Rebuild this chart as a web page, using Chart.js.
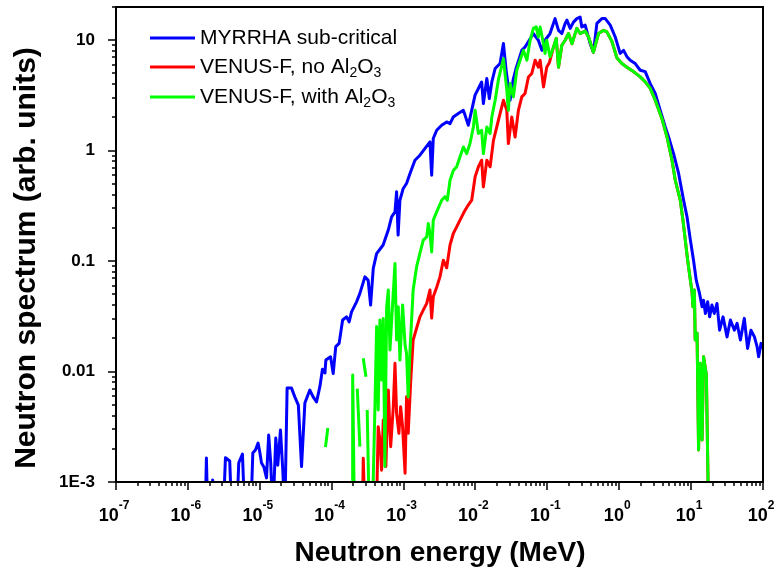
<!DOCTYPE html>
<html>
<head>
<meta charset="utf-8">
<script src="https://cdn.jsdelivr.net/npm/chart.js@4.4.1/dist/chart.umd.min.js"></script>
<style>
  html, body { margin: 0; padding: 0; background: #fff; }
  #wrap { width: 779px; height: 572px; }
</style>
</head>
<body>
<div id="wrap"><canvas id="spectrum"></canvas></div>
<script>
// neutron spectra (log-log)
const FONT = '"Liberation Sans", Arial, sans-serif';

const seriesNames = ['MYRRHA sub-critical', 'VENUS-F, no Al_2O_3', 'VENUS-F, with Al_2O_3'];
const seriesColors = ['#0000ff', '#ff0000', '#00ff00'];

// MYRRHA sub-critical
const blueE = [1.74e-6, 1.81e-6, 1.89e-6, 2.11e-6, 2.21e-6, 2.36e-6, 3.10e-6, 3.33e-6, 3.82e-6, 4.07e-6,
  4.78e-6, 5.1e-6, 5.74e-6, 6.18e-6, 7.5e-6, 8.0e-6, 8.7e-6, 9.47e-6, 1.0e-5, 1.056e-5,
  1.14e-5, 1.24e-5, 1.33e-5, 1.42e-5, 1.52e-5, 1.67e-5, 1.78e-5, 1.94e-5, 2.09e-5, 2.23e-5,
  2.40e-5, 2.76e-5, 3.07e-5, 3.44e-5, 3.81e-5, 4.24e-5, 4.97e-5, 5.52e-5, 6.16e-5, 6.85e-5,
  7.45e-5, 8.06e-5, 8.3e-5, 9.65e-5, 1.05e-4, 1.14e-4, 1.27e-4, 1.42e-4, 1.61e-4, 1.75e-4,
  1.89e-4, 2.22e-4, 2.47e-4, 2.90e-4, 3.22e-4, 3.48e-4, 3.79e-4, 4.22e-4, 5.2e-4, 6.13e-4,
  6.82e-4, 7.6e-4, 8.0e-4, 8.4e-4, 8.9e-4, 9.9e-4, 1.10e-3, 1.23e-3, 1.44e-3, 1.69e-3,
  1.99e-3, 2.33e-3, 2.46e-3, 2.59e-3, 2.89e-3, 3.39e-3, 3.98e-3, 4.43e-3, 4.92e-3, 5.77e-3,
  6.78e-3, 7.16e-3, 7.96e-3, 8.87e-3, 9.87e-3, 1.10e-2, 1.22e-2, 1.29e-2, 1.44e-2, 1.56e-2,
  1.69e-2, 1.88e-2, 2.2e-2, 2.45e-2, 2.67e-2, 3.03e-2, 3.34e-2, 3.68e-2, 4.41e-2, 4.90e-2,
  6.4e-2, 7.5e-2, 8.4e-2, 9.3e-2, 0.109, 0.128, 0.143, 0.159, 0.177, 0.187,
  0.208, 0.231, 0.257, 0.286, 0.302, 0.336, 0.394, 0.438, 0.489, 0.574,
  0.64, 0.75, 0.88, 1.03, 1.15, 1.28, 1.42, 1.67, 1.96, 2.30,
  2.70, 3.17, 3.72, 4.37, 4.86, 5.70, 6.70, 7.86, 8.77, 9.77,
  10.8, 11.8, 13.1, 14.2, 14.9, 15.8, 17.0, 18.1, 19.5, 21.0,
  22.9, 24.9, 27.8, 31.6, 35.2, 40, 43.6, 48.5, 55, 61,
  68, 76, 82.7, 87, 94, 100];
const blueV = [5e-4, 1.65e-3, 5e-4, 5e-4, 1.04e-3, 5e-4, 5e-4, 1.66e-3, 1.55e-3, 5e-4,
  5e-4, 1.49e-3, 1.79e-3, 5e-4, 5e-4, 1.83e-3, 1.95e-3, 2.25e-3, 1.87e-3, 1.49e-3,
  1.37e-3, 1.09e-3, 2.66e-3, 1.49e-3, 5e-4, 2.5e-3, 1.42e-3, 2.95e-3, 1.28e-3, 5e-4,
  7.1e-3, 7.1e-3, 5.9e-3, 4.97e-3, 1.38e-3, 5.2e-3, 6.8e-3, 5.9e-3, 5.3e-3, 7.3e-3,
  1.05e-2, 9.7e-3, 1.27e-2, 1.36e-2, 9.6e-3, 1.68e-2, 1.80e-2, 2.93e-2, 3.13e-2, 2.82e-2,
  3.47e-2, 4.28e-2, 5.1e-2, 7.2e-2, 6.7e-2, 4.0e-2, 8.6e-2, 0.117, 0.140, 0.191,
  0.252, 0.279, 0.424, 0.172, 0.356, 0.455, 0.505, 0.62, 0.82, 0.91,
  1.05, 1.20, 0.60, 1.29, 1.53, 1.70, 1.82, 1.76, 2.02, 2.17,
  2.32, 2.10, 1.70, 2.32, 3.18, 3.66, 4.19, 2.67, 4.50, 2.97,
  4.19, 5.55, 6.16, 9.34, 5.35, 2.86, 4.35, 5.58, 8.1, 8.7,
  11.5, 10, 8.1, 10, 11.5, 15.7, 12.3, 11.5, 14.2, 15.2,
  12.8, 14.6, 15.7, 16.2, 13.2, 13.7, 9.3, 7.8, 14.2, 15.7,
  15.7, 13.7, 10.7, 7.6, 8.1, 7.1, 6.6, 6.15, 5.35, 5.2,
  4.05, 3.3, 2.32, 1.64, 1.33, 0.94, 0.622, 0.356, 0.252, 0.155,
  0.102, 0.067, 0.051, 0.0386, 0.0443, 0.0336, 0.0428, 0.0313, 0.0400, 0.0336,
  0.0414, 0.0237, 0.0313, 0.0206, 0.0293, 0.0237, 0.0273, 0.0193, 0.0303, 0.0162,
  0.0237, 0.0206, 0.0168, 0.0136, 0.0180, 0.0163];

// VENUS-F, with Al2O3 (null = gap in the curve)
const greenE = [8.2e-5, 8.84e-5, 1.5e-4, 1.92e-4, 1.96e-4, 2.07e-4, 2.17e-4, 2.27e-4, 2.47e-4, 2.6e-4,
  2.75e-4, 3.0e-4, 3.06e-4, 3.12e-4, 3.33e-4, 3.5e-4, 3.69e-4, 3.99e-4, 4.22e-4, 4.44e-4,
  4.69e-4, 4.95e-4, 5.22e-4, 5.5e-4, 5.82e-4, 6.13e-4, 6.47e-4, 6.84e-4, 7.6e-4, 8.0e-4,
  8.44e-4, 8.9e-4, 9.7e-4, 1.05e-3, 1.10e-3, 1.16e-3, 1.23e-3, 1.36e-3, 1.52e-3, 1.69e-3,
  1.88e-3, 2.10e-3, 2.21e-3, 2.33e-3, 2.46e-3, 2.59e-3, 2.89e-3, 3.39e-3, 3.77e-3, 4.06e-3,
  4.43e-3, 4.92e-3, 5.48e-3, 6.1e-3, 6.8e-3, 7.56e-3, 8.4e-3, 9.36e-3, 9.9e-3, 1.10e-2,
  1.22e-2, 1.29e-2, 1.44e-2, 1.60e-2, 1.69e-2, 1.88e-2, 2.08e-2, 2.45e-2, 2.73e-2, 2.87e-2,
  3.03e-2, 3.37e-2, 3.76e-2, 4.18e-2, 4.65e-2, 5.19e-2, 5.77e-2, 6.4e-2, 7.0e-2, 7.5e-2,
  7.94e-2, 8.65e-2, 9.3e-2, 9.8e-2, 0.109, 0.122, 0.133, 0.143, 0.159, 0.177,
  0.197, 0.22, 0.257, 0.286, 0.336, 0.374, 0.438, 0.515, 0.604, 0.673,
  0.79, 0.93, 1.09, 1.28, 1.58, 1.96, 2.30, 2.70, 3.17, 3.93,
  4.62, 5.42, 6.02, 7.06, 7.7, 8.3, 8.95, 9.77, 10.3, 10.6,
  11.1, 11.4, 12.1, 12.7, 13.4, 14.2, 14.9, 16.3, 17.5];
const greenV = [2.07e-3, 3.08e-3, null, 5e-4, 9.3e-3, 5e-4, null, 7.0e-3, 2.09e-3, null,
  1.32e-2, 8.97e-3, null, 4.48e-3, 5e-4, null, 5e-4, 4.48e-3, 2.56e-2, 4.48e-3,
  2.93e-2, 8.4e-3, 3.03e-2, 1.38e-3, 3.86e-2, 5.47e-2, 1.57e-2, 2.93e-2, 9.5e-2, 1.93e-2,
  3.86e-2, 1.27e-2, 4.0e-2, 1.74e-2, 1.46e-2, 5.9e-3, 1.57e-2, 5.47e-2, 8.9e-2, 0.118,
  0.155, 0.166, 0.219, 0.179, 0.121, 0.235, 0.279, 0.356, 0.383, 0.356,
  0.54, 0.66, 0.715, 0.88, 1.08, 0.94, 1.16, 1.64, 2.32, 1.43,
  1.53, 0.94, 1.64, 1.43, 2.02, 2.86, 4.35, 6.8, 3.53, 2.32,
  4.05, 3.07, 5.35, 6.6, 8.1, 6.6, 10, 12.8, 13.2, 10.7,
  13.2, 10, 7.6, 10, 7.1, 8.7, 10.4, 5.7, 9.0, 10,
  11.5, 9.3, 12.8, 11.5, 12.1, 10.7, 7.8, 11.5, 12.3, 11.9,
  9.8, 6.9, 6.15, 5.7, 5.2, 4.66, 4.2, 3.66, 2.87, 1.95,
  1.33, 0.82, 0.54, 0.356, 0.235, 0.155, 0.102, 0.067, 0.0524, 0.0386,
  0.0547, 0.0193, 0.0223, 1.95e-3, 1.19e-2, 2.4e-3, 1.36e-2, 9.3e-3, 5e-4];

// VENUS-F, no Al2O3 (mostly hidden under the green curve above ~0.1 MeV)
const redE = [2.68e-4, 2.75e-4, 2.9e-4, 3.5e-4, 4.19e-4, 4.44e-4, 4.69e-4, 4.95e-4, 5.22e-4, 5.67e-4,
  6.13e-4, 6.62e-4, 7.2e-4, 7.6e-4, 8.0e-4, 8.62e-4, 9.1e-4, 9.7e-4, 1.05e-3, 1.10e-3,
  1.16e-3, 1.26e-3, 1.36e-3, 1.52e-3, 1.69e-3, 1.88e-3, 2.10e-3, 2.33e-3, 2.46e-3, 2.59e-3,
  2.89e-3, 3.21e-3, 3.57e-3, 3.98e-3, 4.43e-3, 4.92e-3, 5.48e-3, 6.1e-3, 6.94e-3, 7.9e-3,
  8.87e-3, 9.9e-3, 1.10e-2, 1.22e-2, 1.29e-2, 1.44e-2, 1.60e-2, 1.78e-2, 1.98e-2, 2.20e-2,
  2.45e-2, 2.73e-2, 2.87e-2, 3.2e-2, 3.56e-2, 3.96e-2, 4.41e-2, 4.90e-2, 5.46e-2, 6.08e-2,
  6.77e-2, 7.5e-2, 7.94e-2, 8.85e-2, 9.8e-2, 0.107, 0.122, 0.133, 0.143, 0.159,
  0.177, 0.197, 0.22, 0.257, 0.286, 0.336, 0.374, 0.438, 0.515, 0.604,
  0.673, 0.79, 0.93, 1.09, 1.28, 1.58, 1.96, 2.30, 2.70, 3.17,
  3.93, 4.62, 5.42, 6.02, 7.06, 7.7, 8.3, 8.95, 9.77, 10.3,
  10.6, 11.1, 11.4, 12.1, 12.7, 13.4, 14.2, 14.9, 16.3, 17.5];
const redV = [5e-4, 1.64e-3, 5e-4, null, 5e-4, 3.16e-3, 2.4e-3, 1.28e-3, 3.64e-3, 1.38e-3,
  6.8e-3, 2.09e-3, 4.8e-3, 1.19e-2, 4.18e-3, 2.76e-3, 4.8e-3, 3.16e-3, 1.2e-3, 5.9e-3,
  2.76e-3, 8.4e-3, 1.93e-2, 2.48e-2, 3.13e-2, 3.6e-2, 4.14e-2, 5.47e-2, 3.05e-2, 4.75e-2,
  5.8e-2, 7.2e-2, 0.102, 8.7e-2, 0.140, 0.178, 0.204, 0.235, 0.278, 0.32,
  0.356, 0.58, 0.715, 0.82, 0.47, 0.82, 0.715, 1.24, 1.64, 2.17,
  2.86, 2.32, 1.16, 2.02, 1.33, 2.32, 3.07, 3.3, 4.65, 5.0,
  6.6, 5.7, 6.6, 3.78, 5.7, 6.3, 8.7, 10.4, 5.7, 9.0,
  10, 11.5, 9.3, 12.8, 11.5, 12.1, 10.7, 7.8, 11.5, 12.3,
  11.9, 9.8, 6.9, 6.15, 5.7, 5.2, 4.66, 4.2, 3.66, 2.87,
  1.95, 1.33, 0.82, 0.54, 0.356, 0.235, 0.155, 0.102, 0.067, 0.0524,
  0.0386, 0.0547, 0.0193, 0.0223, 1.95e-3, 1.19e-2, 2.4e-3, 1.36e-2, 9.3e-3, 5e-4];

// axis ticks
const xExponents = [-7, -6, -5, -4, -3, -2, -1, 0, 1, 2];
const yTickValues = [1e-3, 0.01, 0.1, 1, 10];
const yTickLabels = ['1E-3', '0.01', '0.1', '1', '10'];

function toPoints(es, vs) {
  return es.map((e, i) => ({ x: e, y: vs[i] }));
}

// draws text where "_n" means subscript n
function drawSubText(ctx, str, x, y, size) {
  const parts = str.split(/_(\d)/);
  parts.forEach((p, i) => {
    if (!p) return;
    const sub = i % 2 === 1;
    ctx.font = (sub ? Math.round(size * 0.65) : size) + 'px ' + FONT;
    ctx.fillText(p, x, sub ? y + size * 0.3 : y);
    x += ctx.measureText(p).width;
  });
}

const decorations = {
  id: 'decorations',
  afterDraw(chart) {
    const { ctx, chartArea: a, scales: { x, y } } = chart;
    ctx.save();
    ctx.strokeStyle = '#000';
    ctx.fillStyle = '#000';

    // tick marks (outward), major longer
    ctx.lineWidth = 1.5;
    ctx.beginPath();
    for (let p = -7; p <= 2; p++) {
      for (let m = 1; m <= 9; m++) {
        const v = m * Math.pow(10, p);
        if (v > 100) break;
        const px = Math.round(x.getPixelForValue(v));
        const len = m === 1 ? 8 : 4;
        ctx.moveTo(px, a.bottom);
        ctx.lineTo(px, a.bottom + len);
      }
    }
    for (let p = -3; p <= 1; p++) {
      for (let m = 1; m <= 9; m++) {
        const v = m * Math.pow(10, p);
        if (v > 20) break;
        const py = Math.round(y.getPixelForValue(v));
        const len = m === 1 ? 8 : 4;
        ctx.moveTo(a.left, py);
        ctx.lineTo(a.left - len, py);
      }
    }
    ctx.stroke();

    // frame
    ctx.lineWidth = 2;
    ctx.strokeRect(a.left, a.top, a.right - a.left, a.bottom - a.top);

    // x tick labels 10^n
    ctx.textBaseline = 'alphabetic';
    ctx.textAlign = 'left';
    xExponents.forEach(e => {
      const cx = x.getPixelForValue(Math.pow(10, e)) - 2;
      ctx.font = 'bold 18px ' + FONT;
      const wb = ctx.measureText('10').width;
      ctx.font = 'bold 12px ' + FONT;
      const ws = ctx.measureText(String(e)).width;
      const sx = cx - (wb + ws) / 2;
      ctx.font = 'bold 18px ' + FONT;
      ctx.fillText('10', sx, 521);
      ctx.font = 'bold 12px ' + FONT;
      ctx.fillText(String(e), sx + wb, 509);
    });

    // y tick labels
    ctx.font = 'bold 17px ' + FONT;
    ctx.textAlign = 'right';
    ctx.textBaseline = 'middle';
    yTickValues.forEach((v, i) => {
      ctx.fillText(yTickLabels[i], 95, y.getPixelForValue(v));
    });

    // axis titles
    ctx.textAlign = 'center';
    ctx.font = 'bold 28px ' + FONT;
    ctx.fillText('Neutron energy (MeV)', 440, 553);
    ctx.save();
    ctx.translate(27, 258);
    ctx.rotate(-Math.PI / 2);
    ctx.font = 'bold 30px ' + FONT;
    ctx.fillText('Neutron spectrum (arb. units)', 0, 0);
    ctx.restore();

    // legend
    const rows = [38, 67, 97];
    ctx.textAlign = 'left';
    ctx.textBaseline = 'middle';
    seriesNames.forEach((name, i) => {
      ctx.strokeStyle = seriesColors[i];
      ctx.lineWidth = 3;
      ctx.beginPath();
      ctx.moveTo(150, rows[i]);
      ctx.lineTo(195, rows[i]);
      ctx.stroke();
      drawSubText(ctx, name, 200, rows[i], 21);
    });
    ctx.restore();
  }
};

const ds = (label, es, vs, color, order) => ({
  label,
  data: toPoints(es, vs),
  borderColor: color,
  backgroundColor: color,
  borderWidth: 3,
  pointRadius: 0,
  tension: 0,
  spanGaps: false,
  borderJoinStyle: 'round',
  clip: 0,
  order
});

new Chart(document.getElementById('spectrum'), {
  type: 'line',
  data: {
    datasets: [
      ds(seriesNames[0], blueE, blueV, seriesColors[0], 2),
      ds(seriesNames[1], redE, redV, seriesColors[1], 1),
      ds(seriesNames[2], greenE, greenV, seriesColors[2], 0)
    ]
  },
  options: {
    responsive: true,
    maintainAspectRatio: false,
    animation: false,
    events: [],
    layout: { padding: { top: 7, right: 16, left: 0, bottom: 0 } },
    plugins: { legend: { display: false }, tooltip: { enabled: false } },
    scales: {
      x: {
        type: 'logarithmic', min: 1e-7, max: 100,
        ticks: { display: false },
        grid: { display: false, drawTicks: false },
        border: { display: false },
        afterFit(s) { s.height = 90; }
      },
      y: {
        type: 'logarithmic', min: 1e-3, max: 20,
        ticks: { display: false },
        grid: { display: false, drawTicks: false },
        border: { display: false },
        afterFit(s) { s.width = 116; }
      }
    }
  },
  plugins: [decorations]
});
</script>
</body>
</html>
